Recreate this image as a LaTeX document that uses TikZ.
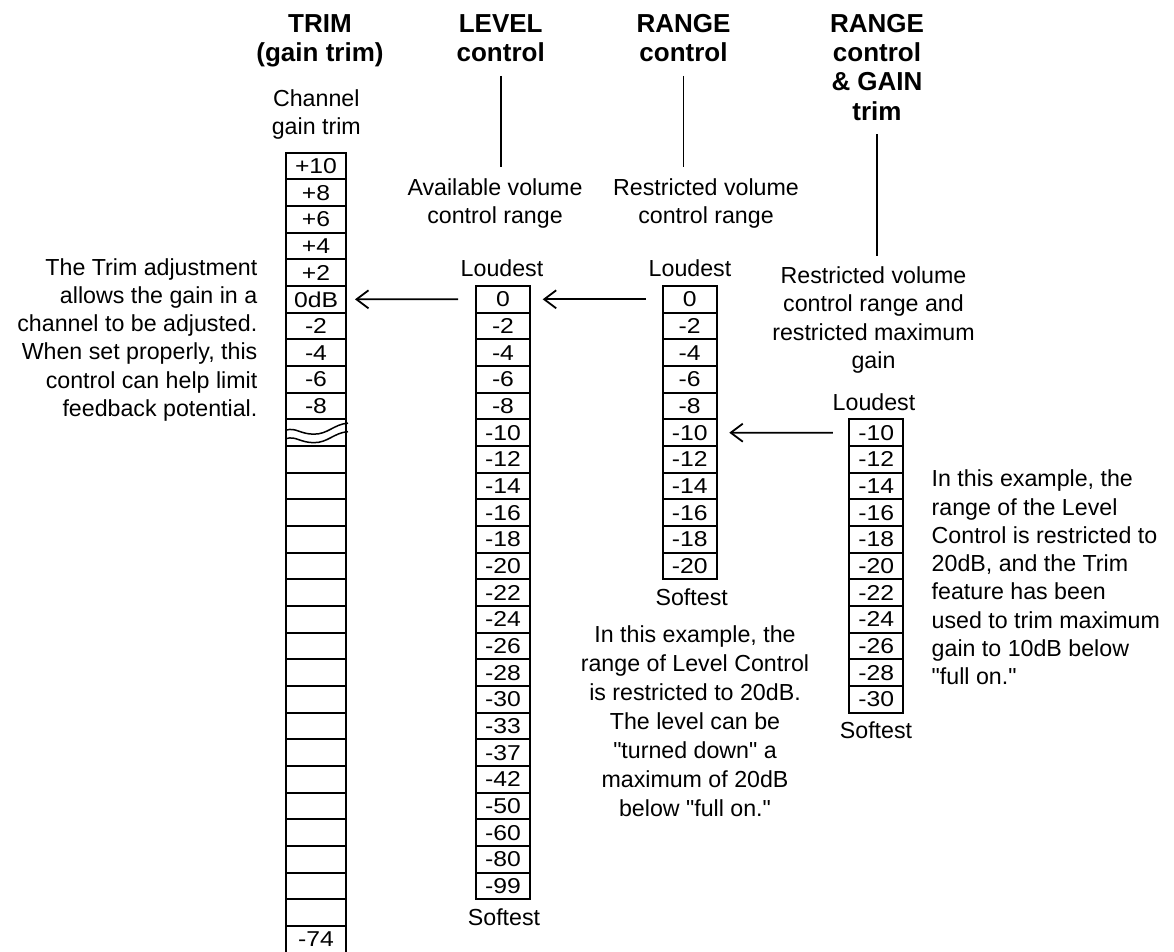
\documentclass[tikz,border=0pt]{standalone}
\usepackage{fontspec}
\setmainfont{Liberation Sans}[Ligatures=TeXOff]
\newfontfamily\cellfont[FakeStretch=1.15]{Liberation Sans}
\usetikzlibrary{arrows.meta}
\begin{document}
\begin{tikzpicture}[x=1pt,y=-1pt,
  every node/.style={inner sep=0pt, outer sep=0pt},
  cell/.style={draw, line width=1.8pt, minimum width=54pt, minimum height=26.667pt,
    font=\cellfont\fontsize{21.5pt}{21.5pt}\selectfont},
  trimcell/.style={cell, minimum width=60pt},
  head/.style={font=\bfseries\fontsize{26pt}{29.3pt}\selectfont, align=center, anchor=base},
  body/.style={font=\fontsize{23.2pt}{28.3pt}\selectfont, anchor=base},
  vline/.style={line width=1.8pt, shorten <=14pt, shorten >=11pt},
  arr/.style={line width=1.8pt, -{Straight Barb[length=12pt,width=18pt]}},
  wave/.style={line width=1.5pt},
]
\useasboundingbox (0,0) rectangle (1174,952);

% column headings (base = baseline of the last line)
\node[head] (trhead) at (320,61.6) {TRIM\\(gain trim)};
\node[head] (lvhead) at (500.7,61.6) {LEVEL\\control};
\node[head] (rnhead) at (683.5,61.6) {RANGE\\control};
\node[head] (rghead) at (877,120.2) {RANGE\\control\\\& GAIN\\trim};

% captions
\node[body, align=center] (trcap) at (316.3,135) {Channel\\gain trim};
\node[body, align=center] (lvcap) at (495,223.3) {Available volume\\control range};
\node[body, align=center] (rncap) at (706,223.3) {Restricted volume\\control range};
\node[body, align=center] (rgcap) at (873.5,368.3) {Restricted volume\\control range and\\restricted maximum\\gain};

\node[body] (lvloud) at (502,276.7) {Loudest};
\node[body] (rnloud) at (690,276.7) {Loudest};
\node[body] (rgloud) at (874,410) {Loudest};
\node[body] (lvsoft) at (504,925.7) {Softest};
\node[body] (rnsoft) at (691.7,605) {Softest};
\node[body] (rgsoft) at (876,738.4) {Softest};

% explanatory notes
\node[body, align=right, anchor=base east] (trnote) at (257.3,416.5)
  {The Trim adjustment\\allows the gain in a\\channel to be adjusted.\\When set properly, this\\control can help limit\\feedback potential.};
\node[body, align=center, font=\fontsize{23.2pt}{29pt}\selectfont] (rnnote) at (695,816.7)
  {In this example, the\\range of Level Control\\is restricted to 20dB.\\The level can be\\"turned down" a\\maximum of 20dB\\below "full on."};
\node[body, align=left, anchor=base west] (rgnote) at (931.7,684.8)
  {In this example, the\\range of the Level\\Control is restricted to\\20dB, and the Trim\\feature has been\\used to trim maximum\\gain to 10dB below\\"full on."};

% trim column
\foreach \v [count=\i from 0] in {+10,+8,+6,+4,+2,0dB,-2,-4,-6,-8}
  \node[trimcell] (tr\i) at (316,{166+\i*26.667}) {\v};
\node[trimcell] (trbrk) at (316,432.667) {};
\foreach \i in {1,...,18}
  \node[trimcell] (trb\i) at (316,{432.667+\i*26.667}) {};
\node[trimcell] (trlast) at (316,{432.667+19*26.667}) {-74};
\draw[wave, shift={(trbrk.west)}] (0,-2.5) .. controls (10,-5.5) and (14,1.5) .. (28,1.5)
  .. controls (42,1.5) and (48,-8.5) .. (62,-9.5);
\draw[wave, shift={(trbrk.west)}] (0,6) .. controls (10,3) and (14,10) .. (28,10)
  .. controls (42,10) and (48,0) .. (62,-1);

% level column
\foreach \v [count=\i from 0] in {0,-2,-4,-6,-8,-10,-12,-14,-16,-18,-20,-22,-24,-26,-28,-30,-33,-37,-42,-50,-60,-80,-99}
  \node[cell] (lv\i) at (503,{299.333+\i*26.667}) {\v};

% range column
\foreach \v [count=\i from 0] in {0,-2,-4,-6,-8,-10,-12,-14,-16,-18,-20}
  \node[cell] (rn\i) at (689.7,{299.333+\i*26.667}) {\v};

% range and gain column
\foreach \v [count=\i from 0] in {-10,-12,-14,-16,-18,-20,-22,-24,-26,-28,-30}
  \node[cell] (rg\i) at (876.2,{432.667+\i*26.667}) {\v};

% heading leaders
\draw[vline] (lvhead.south) -- (lvhead.south |- lvcap.north);
\draw[vline] (rnhead.south) -- (rnhead.south |- rncap.north);
\draw[vline] (rghead.south) -- (rghead.south |- rgcap.north);

% arrows between columns
\draw[arr, shorten <=16.5pt, shorten >=12.7pt] (rn0.west) -- (lv0.east);
\draw[arr, shorten <=18pt, shorten >=9pt] (lv0.west) -- (tr5.east);
\draw[arr, shorten <=16.3pt, shorten >=12.6pt] (rg0.west) -- (rn5.east);
\end{tikzpicture}
\end{document}
